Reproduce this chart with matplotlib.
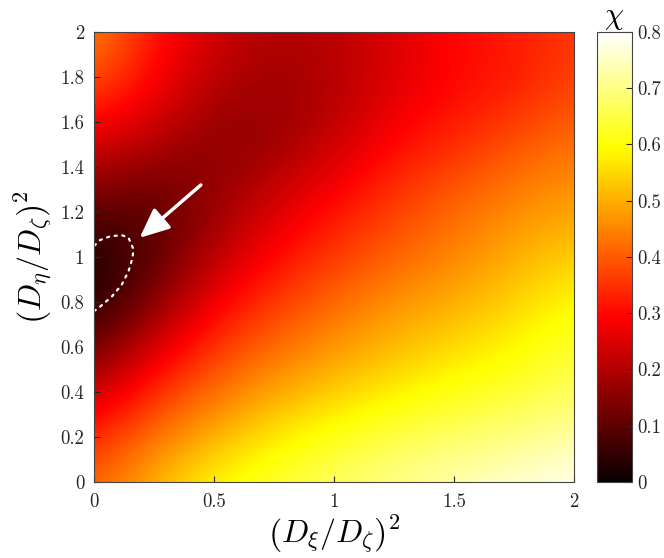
import numpy as np
import matplotlib.pyplot as plt
from matplotlib.ticker import FormatStrFormatter

plt.rcParams['font.family'] = 'serif'
plt.rcParams['font.serif'] = ['cmr10']
plt.rcParams['mathtext.fontset'] = 'cm'
plt.rcParams['axes.formatter.use_mathtext'] = True

# grid of (D_xi/D_zeta)^2 and (D_eta/D_zeta)^2 values
x_vals = [0, 0.25, 0.5, 0.75, 1.0, 1.25, 1.5, 1.75, 2.0]
y_vals = [0, 0.25, 0.5, 0.75, 1.0, 1.25, 1.5, 1.75, 2.0]

# chi, one row per y value (bottom to top)
chi_y000 = [0.41, 0.51, 0.60, 0.64, 0.68, 0.71, 0.74, 0.77, 0.79]
chi_y025 = [0.31, 0.41, 0.48, 0.555, 0.60, 0.64, 0.66, 0.68, 0.71]
chi_y050 = [0.165, 0.30, 0.39, 0.45, 0.50, 0.54, 0.585, 0.61, 0.65]
chi_y075 = [0.04, 0.165, 0.30, 0.375, 0.43, 0.48, 0.51, 0.555, 0.61]
chi_y100 = [0.02, 0.09, 0.21, 0.30, 0.36, 0.41, 0.45, 0.50, 0.54]
chi_y125 = [0.12, 0.10, 0.165, 0.24, 0.30, 0.36, 0.41, 0.45, 0.48]
chi_y150 = [0.25, 0.20, 0.15, 0.17, 0.23, 0.30, 0.34, 0.39, 0.43]
chi_y175 = [0.375, 0.29, 0.20, 0.17, 0.20, 0.255, 0.30, 0.32, 0.375]
chi_y200 = [0.46, 0.31, 0.24, 0.20, 0.215, 0.25, 0.30, 0.32, 0.36]

# dotted boundary of the marked region
region_x = [0.001, 0.025, 0.067, 0.115, 0.143, 0.164, 0.161, 0.152, 0.143, 0.115, 0.074, 0.025, 0.001]
region_y = [1.050, 1.075, 1.092, 1.097, 1.087, 1.035, 1.001, 0.964, 0.935, 0.876, 0.824, 0.779, 0.760]

chi = np.array([chi_y000, chi_y025, chi_y050, chi_y075, chi_y100,
                chi_y125, chi_y150, chi_y175, chi_y200])

fig = plt.figure(figsize=(6.64, 5.58), dpi=100)
ax = fig.add_axes([0.1416, 0.1362, 0.723, 0.8065])
cax = fig.add_axes([0.899, 0.1362, 0.0527, 0.8065])

dx = x_vals[1] - x_vals[0]
dy = y_vals[1] - y_vals[0]
im = ax.imshow(chi, origin='lower', cmap='hot', vmin=0, vmax=0.8,
               interpolation='bicubic', aspect='auto',
               extent=[x_vals[0] - dx / 2, x_vals[-1] + dx / 2,
                       y_vals[0] - dy / 2, y_vals[-1] + dy / 2])
ax.set_xlim(0, 2)
ax.set_ylim(0, 2)

ax.plot(region_x, region_y, color='white', lw=1.6,
        linestyle=(0, (1, 2.5)), dash_capstyle='round')

ax.annotate('', xy=(0.19, 1.085), xytext=(0.445, 1.32),
            arrowprops=dict(arrowstyle='-|>,head_length=0.9,head_width=0.4',
                            color='white', lw=2.5, mutation_scale=20,
                            shrinkA=0, shrinkB=0))

ax.set_xticks([0, 0.5, 1, 1.5, 2])
ax.set_yticks(np.arange(0, 2.01, 0.2))
ax.xaxis.set_major_formatter(FormatStrFormatter('%g'))
ax.yaxis.set_major_formatter(FormatStrFormatter('%g'))
ax.tick_params(direction='in', labelsize=13.5, length=4, colors='#262626')
ax.tick_params(axis='x', pad=8)
ax.tick_params(axis='y', pad=7)
ax.set_xlabel(r'$\left(D_\xi/D_\zeta\right)^2$', fontsize=23, labelpad=2)
ax.set_ylabel(r'$\left(D_\eta/D_\zeta\right)^2$', fontsize=23, labelpad=4)
for s in ax.spines.values():
    s.set_color('#444444')
    s.set_linewidth(0.8)

cb = fig.colorbar(im, cax=cax)
cb.set_ticks(np.arange(0, 0.81, 0.1))
cb.ax.yaxis.set_major_formatter(FormatStrFormatter('%g'))
cb.ax.tick_params(direction='in', labelsize=13.5, length=4, colors='#262626')
cb.outline.set_edgecolor('#444444')
cb.outline.set_linewidth(0.8)
cb.ax.set_title(r'$\chi$', fontsize=22, pad=4)

fig.savefig('out.png', dpi=100)
